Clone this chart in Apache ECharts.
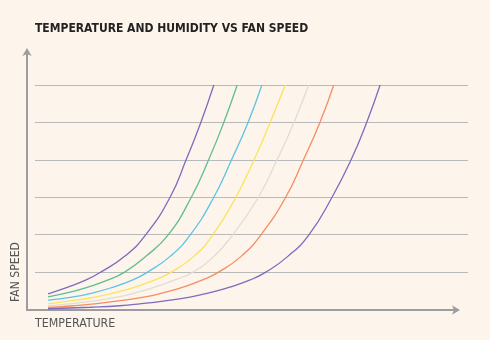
<!DOCTYPE html>
<html>
<head>
<meta charset="utf-8">
<script src="https://cdn.jsdelivr.net/npm/echarts@6/dist/echarts.min.js"></script>
<style>
  html, body { margin: 0; padding: 0; background: #fdf4eb; }
  #chart { width: 490px; height: 340px; }
</style>
</head>
<body>
<div id="chart"></div>
<script>
// Curves: [temperature, fan speed]
const titleText = 'TEMPERATURE AND HUMIDITY VS FAN SPEED';
const xAxisName = 'TEMPERATURE';
const yAxisName = 'FAN SPEED';

const curve1 = [[3.0,0.42],[7.6,0.60],[11.8,0.79],[15.2,1.0],[20.7,1.42],[25.6,2.0],[31.2,3.0],[34.9,4.0],[38.3,5.0],[41.3,6.0]];
const curve2 = [[3.0,0.34],[7.6,0.45],[12.2,0.60],[16.9,0.79],[20.7,1.0],[25.6,1.42],[30.8,2.0],[36.1,3.0],[40.1,4.0],[43.6,5.0],[46.7,6.0]];
const curve3 = [[3.0,0.25],[8.5,0.33],[13.6,0.45],[18.1,0.60],[22.6,0.79],[26.0,1.0],[31.2,1.42],[35.9,2.0],[41.3,3.0],[45.4,4.0],[49.2,5.0],[52.4,6.0]];
const curve4 = [[3.0,0.15],[8.1,0.23],[13.9,0.33],[18.5,0.45],[23.1,0.60],[27.7,0.79],[31.5,1.0],[36.7,1.42],[41.1,2.0],[46.4,3.0],[50.6,4.0],[54.3,5.0],[57.8,6.0]];
const curve5 = [[3.0,0.095],[7.8,0.15],[13.6,0.23],[18.9,0.33],[23.3,0.45],[27.7,0.60],[32.3,0.79],[36.5,1.0],[41.3,1.42],[45.7,2.0],[51.6,3.0],[55.9,4.0],[59.8,5.0],[63.2,6.0]];
const curve6 = [[3.0,0.055],[8.9,0.10],[13.6,0.15],[19.3,0.23],[25.1,0.33],[29.7,0.45],[34.2,0.60],[38.7,0.79],[42.4,1.0],[47.6,1.42],[52.2,2.0],[57.9,3.0],[62.0,4.0],[65.8,5.0],[69.0,6.0]];
const curve7 = [[3.0,0.02],[12.7,0.06],[19.6,0.10],[24.2,0.15],[30.0,0.23],[35.8,0.33],[40.4,0.45],[45.0,0.60],[49.7,0.79],[53.3,1.0],[58.4,1.42],[63.3,2.0],[68.6,3.0],[73.0,4.0],[76.6,5.0],[79.7,6.0]];

const curves = [curve1, curve2, curve3, curve4, curve5, curve6, curve7];
const colors = ['#7d6bbd', '#5fbf8c', '#5bc3e4', '#fbe35c', '#e2ddd2', '#f58d62', '#7d6bbd'];

// pick an installed condensed font and size text to the reference widths
const ctx = document.createElement('canvas').getContext('2d');
function widthOf(text, font) { ctx.font = font; return ctx.measureText(text).width; }
function hasFont(name) {
  const s = 'TEMPERATURE AND HUMIDITY';
  return widthOf(s, '20px monospace') !== widthOf(s, "20px '" + name + "', monospace");
}
const candidates = ['Liberation Sans Narrow', 'DejaVu Sans Condensed', 'Roboto'];
const FONT_NAME = candidates.find(hasFont) || 'sans-serif';
const FONT = "'" + FONT_NAME + "', sans-serif";
function fitSize(text, weight, targetWidth) {
  const w = widthOf(text, weight + ' 100px ' + FONT);
  return Math.round(100 * targetWidth / w * 10) / 10;
}
const titleSize = fitSize(titleText, 'bold', 274);
const xNameSize = fitSize(xAxisName, 'normal', 80);
const yNameSize = fitSize(yAxisName, 'normal', 60);

const chart = echarts.init(document.getElementById('chart'), null, { renderer: 'canvas' });

chart.setOption({
  backgroundColor: '#fdf4eb',
  animation: false,
  title: {
    text: titleText,
    left: 35,
    top: 22.5,
    padding: 0,
    textStyle: { fontFamily: FONT, fontSize: titleSize, fontWeight: 'bold', color: '#232323' }
  },
  grid: [
    { left: 35, right: 22, top: 85, bottom: 30.5 },
    { left: 27, right: 33, top: 51, bottom: 30 }
  ],
  xAxis: [
    { type: 'value', gridIndex: 0, min: 0, max: 100, show: true,
      axisLine: { show: false }, axisTick: { show: false }, axisLabel: { show: false }, splitLine: { show: false } },
    { type: 'value', gridIndex: 1, min: 0, max: 1,
      axisLine: { show: true, symbol: ['none', 'arrow'], symbolSize: [7, 8], symbolOffset: [0, 3],
                  lineStyle: { color: '#9c9ca0', width: 2 } },
      axisTick: { show: false }, axisLabel: { show: false }, splitLine: { show: false } }
  ],
  yAxis: [
    { type: 'value', gridIndex: 0, min: 0, max: 6, interval: 1,
      axisLine: { show: false }, axisTick: { show: false }, axisLabel: { show: false },
      splitLine: { show: true, showMinLine: false, lineStyle: { color: '#b9b9b9', width: 1 } } },
    { type: 'value', gridIndex: 1, min: 0, max: 1,
      axisLine: { show: true, symbol: ['none', 'arrow'], symbolSize: [7, 8], symbolOffset: [0, 3],
                  lineStyle: { color: '#9c9ca0', width: 2 } },
      axisTick: { show: false }, axisLabel: { show: false }, splitLine: { show: false } }
  ],
  graphic: [
    { type: 'text', left: 35, top: 317.5,
      style: { text: xAxisName, fontFamily: FONT, fontSize: xNameSize, fill: '#555555' } },
    { type: 'text', x: 15.5, y: 272, rotation: Math.PI / 2,
      style: { text: yAxisName, fontFamily: FONT, fontSize: yNameSize, fill: '#555555',
               align: 'center', verticalAlign: 'middle' } }
  ],
  series: curves.map((d, i) => ({
    type: 'line',
    xAxisIndex: 0,
    yAxisIndex: 0,
    data: d,
    smooth: 0.5,
    showSymbol: false,
    lineStyle: { color: colors[i], width: 1.3 },
    z: 3
  }))
});
</script>
</body>
</html>
